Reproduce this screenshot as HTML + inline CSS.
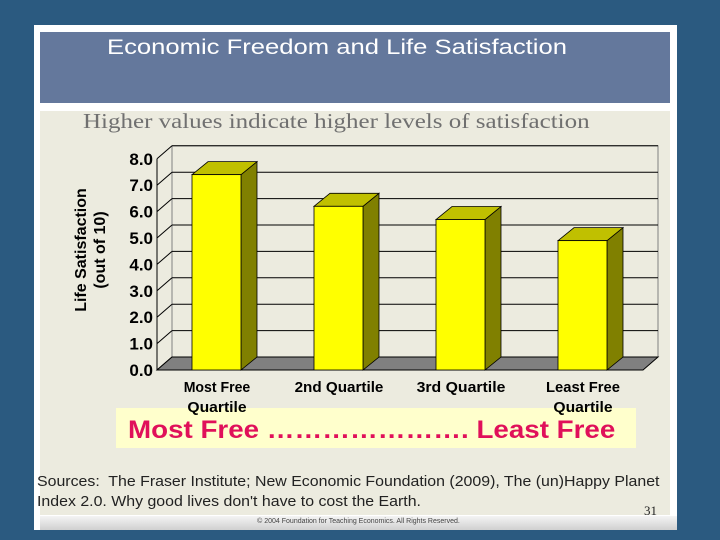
<!DOCTYPE html>
<html><head><meta charset="utf-8"><style>
html,body{margin:0;padding:0}
body{width:720px;height:540px;background:#2b5a80;position:relative;overflow:hidden;font-family:"Liberation Sans",sans-serif}
.sx{transform-origin:0 0;white-space:nowrap}
</style></head><body>
<div style="position:absolute;left:34px;top:25px;width:643px;height:505px;background:#fff"></div>
<div style="position:absolute;left:40px;top:32px;width:630px;height:71px;background:#64789c"></div>
<div class="sx" style="position:absolute;left:107px;top:36px;color:#fff;font-size:21px;transform:scaleX(1.22)">Economic Freedom and Life Satisfaction</div>
<div style="position:absolute;left:40px;top:111px;width:630px;height:404px;background:#ecebdf"></div>
<div class="sx" style="position:absolute;left:83px;top:109px;color:#707070;font-size:21px;font-family:'Liberation Serif',serif;transform:scaleX(1.19)">Higher values indicate higher levels of satisfaction</div>
<div style="position:absolute;left:116px;top:408px;width:520px;height:40px;background:#ffffcc"></div>
<svg width="720" height="540" style="position:absolute;left:0;top:0" id="chart"></svg>
<div class="sx" style="position:absolute;left:128px;top:416px;color:#e0105a;font-size:25px;font-weight:bold;transform:scaleX(1.11)">Most Free …………………. Least Free</div>
<div style="position:absolute;left:37px;top:472px;color:#222;font-size:15px;line-height:20px;width:600px;transform:scaleX(1.06);transform-origin:0 0">Sources:&nbsp; The Fraser Institute; New Economic Foundation (2009), The (un)Happy Planet Index 2.0. Why good lives don't have to cost the Earth.</div>
<div style="position:absolute;left:644px;top:503px;font-family:'Liberation Serif',serif;font-size:13px;color:#222">31</div>
<div style="position:absolute;left:40px;top:516px;width:637px;height:14px;background:linear-gradient(#f4f4f4,#d0d0d0)"></div>
<div style="position:absolute;left:40px;top:518px;width:637px;text-align:center;font-size:7px;color:#444">© 2004 Foundation for Teaching Economics. All Rights Reserved.</div>
<script>
const categories=[["Most Free","Quartile"],["2nd Quartile"],["3rd Quartile"],["Least Free","Quartile"]];
const values=[7.4,6.2,5.7,4.9];
const ticks=["0.0","1.0","2.0","3.0","4.0","5.0","6.0","7.0","8.0"];
const svg=document.getElementById('chart');
const NS="http://www.w3.org/2000/svg";
const y0=370,unit=26.4,x0=157,dx=15,dy=13,xEnd=643;
const y=v=>y0-v*unit;
const bx=i=>192+i*122;
function el(t,a,p){const e=document.createElementNS(NS,t);for(const k in a)e.setAttribute(k,a[k]);(p||svg).appendChild(e);return e;}
let w=el('rect',{x:x0+dx,y:y(8)-dy,width:xEnd-x0,height:8*unit,fill:'#ecebdf',stroke:'#808080'});

ticks.forEach((t,i)=>{
 const g=el('line',{x1:x0+dx,y1:y(i)-dy,x2:xEnd+dx,y2:y(i)-dy,stroke:'#000','stroke-width':1});
 
 const d=el('line',{x1:x0,y1:y(i),x2:x0+dx,y2:y(i)-dy,stroke:'#000'});
 
 const tx=el('text',{x:153,y:y(i)+6,'text-anchor':'end','font-size':17,'font-weight':'bold','font-family':'Liberation Sans,sans-serif'});
 tx.textContent=t;
});
let fl=el('polygon',{points:`${x0},${y0} ${xEnd},${y0} ${xEnd+dx},${y0-dy} ${x0+dx},${y0-dy}`,fill:'#808080',stroke:'#000'});

let ax=el('line',{x1:x0,y1:y(8),x2:x0,y2:y0,stroke:'#000'});

const bw=49,bdx=16,bdy=13;
values.forEach((v,i)=>{
 const x=bx(i),t=y(v);
 const g=el('g',{});
 el('polygon',{points:`${x+bw},${t} ${x+bw+bdx},${t-bdy} ${x+bw+bdx},${y0-bdy} ${x+bw},${y0}`,fill:'#808000',stroke:'#000','stroke-width':0.8},g);
 el('polygon',{points:`${x},${t} ${x+bdx},${t-bdy} ${x+bw+bdx},${t-bdy} ${x+bw},${t}`,fill:'#c0c000',stroke:'#000','stroke-width':0.8},g);
 el('rect',{x:x,y:t,width:bw,height:y0-t,fill:'#ffff00',stroke:'#000','stroke-width':0.8},g);
 categories[i].forEach((line,j)=>{
  const tx=el('text',{x:x+25,y:392+j*20,'text-anchor':'middle','font-size':14.5,'font-weight':'bold','font-family':'Liberation Sans,sans-serif','textLength':line.length*7.4,'lengthAdjust':'spacingAndGlyphs'});
  tx.textContent=line;
 });
});
const yt=el('text',{transform:'translate(86,250) rotate(-90)','text-anchor':'middle','font-size':16,'font-weight':'bold','font-family':'Liberation Sans,sans-serif'});

const t1=el('tspan',{x:0,y:0},yt);t1.textContent='Life Satisfaction';
const t2=el('tspan',{x:0,y:19},yt);t2.textContent='(out of 10)';
</script>
</body></html>
